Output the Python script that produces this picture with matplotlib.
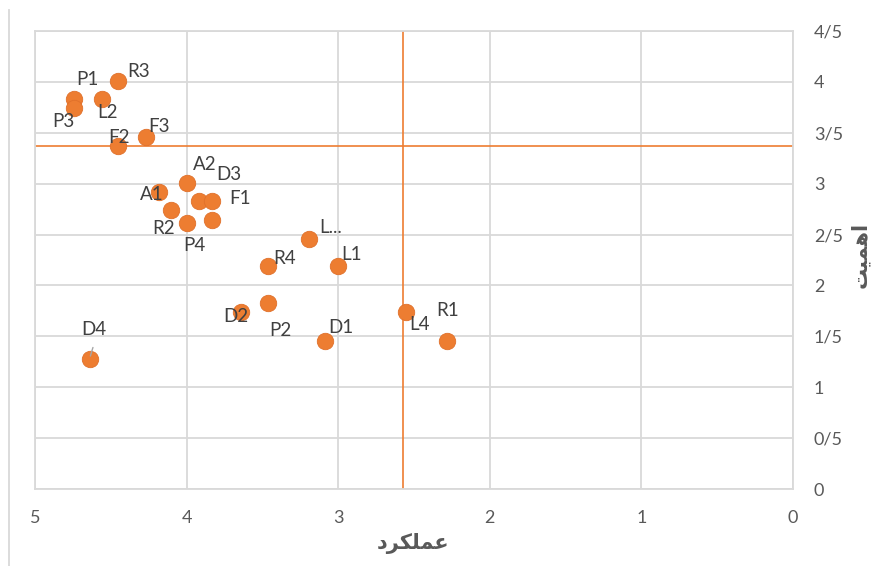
import matplotlib.pyplot as plt
from matplotlib.lines import Line2D

# data
names = ['P1', 'P3', 'R3', 'L2', 'F3', 'F2', 'A2', 'A1', 'D3', 'F1', 'R2', 'P4', '',
         'L...', 'R4', 'L1', 'P2', 'D2', 'D1', 'L4', 'R1', 'D4']
performance = [4.74, 4.74, 4.45, 4.56, 4.27, 4.45, 4.00, 4.18, 3.92, 3.83, 4.10, 4.00, 3.83,
               3.19, 3.46, 3.00, 3.46, 3.64, 3.09, 2.55, 2.28, 4.64]
importance = [3.83, 3.74, 4.01, 3.83, 3.46, 3.37, 3.01, 2.92, 2.83, 2.83, 2.74, 2.61, 2.64,
              2.46, 2.19, 2.19, 1.83, 1.74, 1.45, 1.74, 1.45, 1.28]
mean_performance = 2.57
mean_importance = 3.37

xticks = [5, 4, 3, 2, 1, 0]
yticks = [0, 0.5, 1, 1.5, 2, 2.5, 3, 3.5, 4, 4.5]
ytick_labels = ['0', '0/5', '1', '1/5', '2', '2/5', '3', '3/5', '4', '4/5']

# label offsets in pixels (dx, dy) per point
offsets = [(13, 20), (-11, -13), (20, 9), (6, -13), (13, 10), (1, 9), (18, 18), (-7, -3),
           (30, 26), (28, 2), (-8, -18), (8, -22), (0, 0),
           (21, 11), (16, 8), (13, 12), (12, -28), (-5, -5), (16, 14), (13, -13), (0, 31), (4, 29)]

orange = '#ED7D31'
grid_c = '#D9D9D9'
txt_c = '#404040'
tick_c = '#595959'
font = ['Lato', 'DejaVu Sans']

plt.rcParams['font.family'] = font

fig = plt.figure(figsize=(8.72, 5.66), dpi=100)
ax = fig.add_axes([35 / 872, 1 - 489 / 566, 758 / 872, 458 / 566])

ax.set_xlim(5, 0)
ax.set_ylim(0, 4.5)
ax.set_xticks(xticks)
ax.set_xticklabels([str(t) for t in xticks])
ax.set_yticks(yticks)
ax.set_yticklabels(ytick_labels)
ax.yaxis.tick_right()
ax.tick_params(axis='both', length=0, labelsize=13, colors=tick_c)
ax.tick_params(axis='y', pad=15)
ax.tick_params(axis='x', pad=15)
ax.grid(True, color=grid_c, linewidth=1.3)
ax.set_axisbelow(True)
for s in ax.spines.values():
    s.set_color(grid_c)
    s.set_linewidth(1.3)

ax.axvline(mean_performance, color=orange, linewidth=1.2, zorder=2)
ax.axhline(mean_importance, color=orange, linewidth=1.2, zorder=2)

ax.scatter(performance, importance, s=140, color=orange, edgecolor='#E0702A',
           linewidth=0.6, zorder=3)

for n, x, y, (dx, dy) in zip(names, performance, importance, offsets):
    if n:
        ax.annotate(n, (x, y), xytext=(dx * 0.72, dy * 0.72), textcoords='offset points',
                    ha='center', va='center', fontsize=13.5, color=txt_c, zorder=4)

# leader line for D4
d4 = names.index('D4')
ax.annotate('', (performance[d4], importance[d4]), xytext=(3, 10), textcoords='offset points',
            arrowprops=dict(arrowstyle='-', color='#A6A6A6', lw=1), zorder=4)

# axis titles (Persian, shaped and ordered manually)
xlabel = '\uFEA9\uFEAE\uFB91\uFEE0\uFEE4\uFECB'   # عملکرد
ylabel = '\uFE96\uFBFF\uFEE4\uFEEB\uFE8D'         # اهمیت
fig.text(413 / 872, 1 - 543 / 566, xlabel, ha='center', va='center', fontsize=15,
         fontweight='bold', color=tick_c, family='DejaVu Sans')
fig.text(860 / 872, 1 - 255 / 566, ylabel, ha='center', va='center', fontsize=15,
         fontweight='bold', color=tick_c, rotation=90, family='DejaVu Sans')

# chart area border on the left
fig.add_artist(Line2D([9 / 872, 9 / 872], [0, 1 - 10 / 566], transform=fig.transFigure,
                      color=grid_c, linewidth=1.3))

fig.savefig('out.png', dpi=100)
